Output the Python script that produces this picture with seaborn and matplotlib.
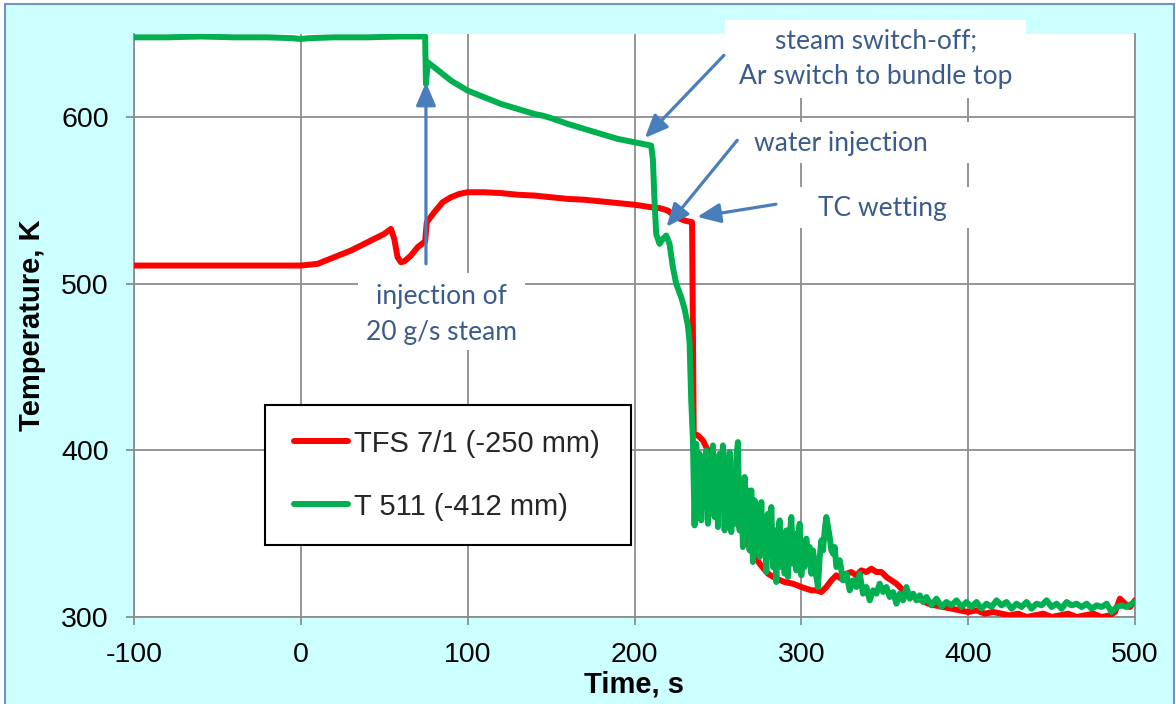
import matplotlib
matplotlib.use("Agg")
import matplotlib.pyplot as plt
from matplotlib.patches import Rectangle
import pandas as pd
import seaborn as sns

# ---- measured temperatures -------------------------------------------------
# TFS 7/1 (-250 mm)
tfs_time = [-100, -80, -60, -40, -20, 0, 5, 10, 15, 20, 30, 40, 50, 54, 56, 58, 60,
            62, 66, 70, 74.5, 75.5, 80, 85, 90, 95, 100, 110, 120, 130, 140, 150,
            160, 170, 180, 190, 200, 210, 215, 220, 225, 230, 234.5, 235.5, 238,
            241, 245, 250, 255, 260, 265, 270, 275, 280, 285, 290, 295, 300, 303,
            306, 309, 312, 315, 318, 321, 324, 327, 330, 333, 336, 339, 342, 345,
            348, 351, 354, 357, 360, 364, 368, 372, 376, 380, 385, 390, 395, 400,
            405, 410, 415, 420, 425, 430, 435, 440, 445, 450, 455, 460, 465, 470,
            475, 480, 485, 488, 491, 494, 497, 500]
tfs_temp = [511, 511, 511, 511, 511, 511, 511.5, 512, 514, 516, 520, 525, 530, 533,
            527, 516, 513, 513.5, 517, 522, 525.5, 537, 543, 549, 552, 554, 555,
            555, 554.5, 553.5, 553, 552, 551, 550.5, 549.5, 548.5, 547.5, 546,
            545.5, 544, 540, 538, 537, 410, 409, 406, 398, 385, 372, 360, 350,
            340, 332, 326, 323, 321, 320, 318, 317, 316, 316, 315, 318, 322, 325,
            323, 326, 327, 325, 328, 327, 329, 327, 327, 324, 322, 320, 317, 314,
            312, 310, 308, 307, 306, 305, 304, 303, 304, 302, 303, 302, 301, 302,
            300, 301, 302, 300, 301, 302, 300, 301, 302, 300, 301, 303, 311, 308,
            306, 310]

# T 511 (-412 mm)
t511_time = [-100, -80, -60, -40, -20, -5, 0, 5, 20, 40, 60, 74.5, 75, 75.5, 76,
             80, 90, 100, 110, 120, 130, 140, 145, 150, 160, 170, 180, 190, 200,
             205, 210, 211, 212, 213, 215, 217, 219, 221, 223, 225, 228, 230, 232,
             233, 234, 235, 236, 237, 238, 239, 240, 241, 242, 243, 244, 245, 246,
             247, 248, 249, 250, 251, 252, 253, 254, 255, 256, 257, 258, 259, 260,
             261, 262, 263, 264, 265, 266, 267, 268, 269, 270, 271, 272, 273, 274,
             275, 276, 277, 278, 279, 280, 281, 282, 283, 284, 285, 286, 287, 288,
             289, 290, 291, 292, 293, 294, 295, 296, 297, 298, 299, 300, 301, 302,
             303, 304, 305, 306, 307, 308, 310, 311, 312, 313, 314, 315, 316, 317,
             318, 319, 320, 321, 323, 325, 327, 329, 331, 333, 335, 337, 339, 341,
             343, 345, 347, 349, 351, 353, 355, 357, 359, 361, 363, 365, 367, 369,
             371, 373, 375, 378, 381, 384, 387, 390, 393, 396, 399, 402, 405, 408,
             411, 414, 417, 420, 423, 426, 429, 432, 435, 438, 441, 444, 447, 450,
             453, 456, 459, 462, 465, 468, 471, 474, 477, 480, 483, 486, 489, 492,
             495, 498, 500]
t511_temp = [648, 648, 648.5, 648, 648, 647.5, 647, 647.5, 648, 648, 648.5, 648.5,
             620, 626, 633, 630, 622, 616, 612, 608, 605, 602, 601, 599.5, 596, 593,
             590, 587, 585, 584, 583, 575, 550, 530, 524, 527, 529, 524, 510, 500,
             492, 485, 475, 465, 430, 407, 355, 404, 362, 398, 358, 395, 366, 400,
             356, 396, 363, 403, 360, 390, 354, 398, 368, 403, 352, 392, 358, 399,
             351, 388, 356, 395, 405, 352, 380, 342, 384, 350, 376, 340, 376, 333,
             370, 345, 365, 336, 369, 338, 360, 327, 362, 340, 366, 330, 352, 321,
             350, 358, 330, 345, 326, 352, 324, 348, 360, 332, 350, 328, 346, 356,
             325, 340, 330, 347, 335, 342, 326, 340, 330, 318, 336, 346, 340, 352,
             360, 354, 348, 340, 338, 342, 330, 334, 322, 326, 316, 322, 318, 326,
             314, 318, 310, 316, 314, 320, 315, 318, 312, 315, 308, 314, 310, 318,
             311, 314, 310, 313, 309, 312, 307, 311, 306, 309, 307, 310, 306, 309,
             306, 309, 305, 308, 306, 310, 307, 309, 305, 308, 306, 309, 305, 308,
             307, 310, 306, 308, 305, 309, 307, 308, 306, 308, 305, 307, 306, 308,
             303, 306, 307, 306, 308, 309]

series_labels = ["TFS 7/1 (-250 mm)", "T 511 (-412 mm)"]
series_colors = ["#FF0000", "#00B050"]
x_ticks = [-100, 0, 100, 200, 300, 400, 500]
y_ticks = [300, 400, 500, 600]
x_label = "Time, s"
y_label = "Temperature, K"

# event notes: text, text centre (axes fraction), arrow start and tip (data)
notes = [
    ("injection of\n20 g/s steam", (0.3072, 0.5189), (75, 512), (75, 621)),
    ("steam switch-off;\nAr switch to bundle top", (0.7413, 0.958), (253.6, 637.2), (206.2, 587.6)),
    ("water injection", (0.7063, 0.813), (261.6, 586.2), (219.2, 534.2)),
    ("TC wetting", (0.7478, 0.7015), (284.8, 547.8), (237.6, 540.2)),
]
# white backing panels behind the notes (axes fraction: x0, y0, x1, y1)
note_panels = [
    (0.2238, 0.458, 0.3906, 0.590),
    (0.5904, 0.890, 0.8911, 1.024),
    (0.6054, 0.7787, 0.8402, 0.849),
    (0.6454, 0.6672, 0.8452, 0.7376),
]

# ---- figure ---------------------------------------------------------------
sns.set_theme(style="white")
plt.rcParams["font.family"] = ["Liberation Sans", "DejaVu Sans"]

fig = plt.figure(figsize=(11.76, 7.04), dpi=100, facecolor="white")
frame = Rectangle((5 / 1176, -0.01), (1174 - 5) / 1176, 1.01 - 4 / 704,
                  transform=fig.transFigure, facecolor="#CCFFFF",
                  edgecolor="#6F93C6", linewidth=1.5, zorder=-10)
fig.patches.append(frame)
ax = fig.add_axes([134 / 1176, (704 - 617) / 704, 1001 / 1176, 583 / 704])
ax.set_zorder(1)
ax.set_facecolor("white")

df = pd.concat([
    pd.DataFrame({"time": tfs_time, "temp": tfs_temp, "sensor": series_labels[0]}),
    pd.DataFrame({"time": t511_time, "temp": t511_temp, "sensor": series_labels[1]}),
], ignore_index=True)

line_w = 4.3
sns.lineplot(data=df, x="time", y="temp", hue="sensor", hue_order=series_labels,
             palette=series_colors, estimator=None, sort=False, linewidth=line_w,
             ax=ax, legend=False, zorder=3)
for line in ax.get_lines():
    line.set_solid_joinstyle("round")
    line.set_solid_capstyle("round")

ax.set_xlim(-100, 500)
ax.set_ylim(300, 650)
ax.set_xticks(x_ticks)
ax.set_yticks(y_ticks)
ax.set_xticklabels([str(v) for v in x_ticks])
ax.set_yticklabels([str(v) for v in y_ticks])

grid_col = "#8C8C8C"
ax.grid(True, color=grid_col, linewidth=1.3)
ax.set_axisbelow(True)
for side in ["left", "bottom", "right"]:
    ax.spines[side].set_color(grid_col)
    ax.spines[side].set_linewidth(1.3)
ax.spines["top"].set_visible(False)
ax.tick_params(axis="both", which="major", direction="out", length=6, width=1.3,
               color=grid_col, labelsize=20.5, labelcolor="black", pad=12,
               bottom=True, left=True)

ax.set_xlabel(x_label, fontsize=21, fontweight="bold", color="black")
ax.set_ylabel(y_label, fontsize=21, fontweight="bold", color="black")
ax.xaxis.set_label_coords(0.5, -0.092)
ax.yaxis.set_label_coords(-0.088, 0.5)

# legend inside its own black frame
fx0, fy0, fx1, fy1 = 0.1309, 0.1235, 0.4965, 0.3636
ax.add_patch(Rectangle((fx0, fy0), fx1 - fx0, fy1 - fy0, transform=ax.transAxes,
                       facecolor="white", edgecolor="black", linewidth=1.5, zorder=5))
handles = [plt.Line2D([], [], color=c, linewidth=line_w, solid_capstyle="round")
           for c in series_colors]
leg = ax.legend(handles, series_labels, loc="center left",
                bbox_to_anchor=(0.1598, (fy0 + fy1) / 2), frameon=False,
                fontsize=21, handlelength=1.85, handletextpad=0.2,
                labelspacing=1.2, borderpad=0, borderaxespad=0)
leg.set_zorder(6)

# event notes with arrows
note_color = "#3A5B8C"
arrow_color = "#4A7EBB"
for (x0, y0, x1, y1) in note_panels:
    ax.add_patch(Rectangle((x0, y0), x1 - x0, y1 - y0, transform=ax.transAxes,
                           facecolor="white", edgecolor="none", zorder=1,
                           clip_on=False))
for text, pos, start, tip in notes:
    ax.text(pos[0], pos[1], text, transform=ax.transAxes, ha="center", va="center",
            fontsize=19, color=note_color, family=["Lato", "DejaVu Sans"],
            linespacing=1.55, zorder=7, clip_on=False)
    ax.annotate("", xy=tip, xytext=start, xycoords="data", textcoords="data",
                arrowprops=dict(arrowstyle="-|>,head_length=1.4,head_width=0.6",
                                mutation_scale=10, color=arrow_color, lw=2.3,
                                shrinkA=0, shrinkB=0),
                annotation_clip=False, zorder=8)

fig.savefig("out.png", dpi=100, facecolor=fig.get_facecolor())
